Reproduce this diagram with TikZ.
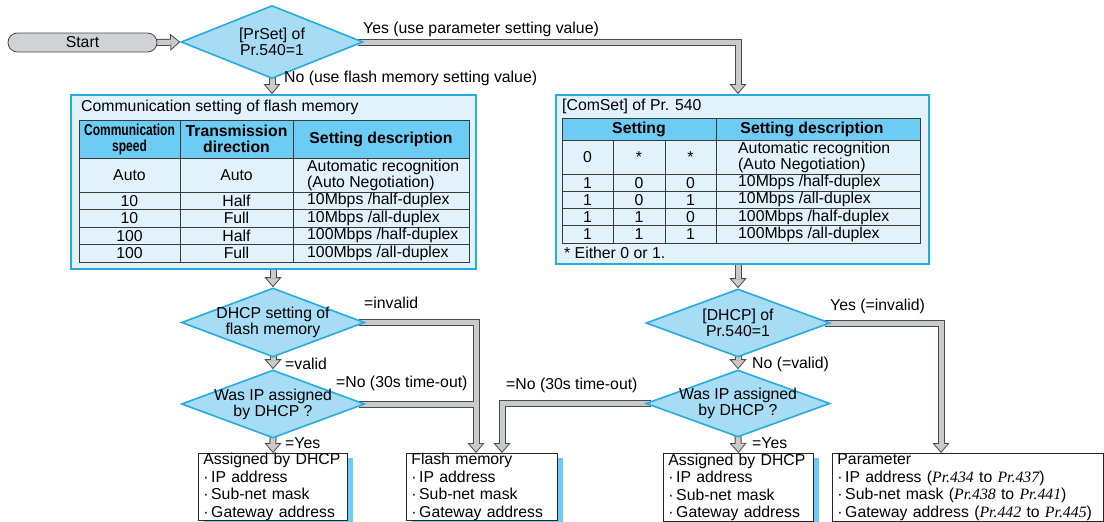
\documentclass[tikz,border=0pt]{standalone}
\usepackage{fontspec}
\setmainfont{Liberation Sans}
\newfontfamily\prfont{Liberation Serif}
\usetikzlibrary{arrows.meta, positioning, shapes.geometric, calc, backgrounds, shadows}

\definecolor{cyanline}{HTML}{27AAE1}
\definecolor{diafill}{HTML}{A6DCF4}
\definecolor{boxfill}{HTML}{E1F2FA}
\definecolor{headfill}{HTML}{6DCCF3}
\definecolor{flowgray}{HTML}{C9CACB}
\definecolor{flowline}{HTML}{4A4A4A}
\definecolor{pillfill}{HTML}{D1D2D4}
\definecolor{gridcol}{HTML}{3A3A3A}

\pgfdeclarelayer{flowout}
\pgfdeclarelayer{flowin}
\pgfsetlayers{flowout,flowin,main}

\newcommand\itemdot{\kern1.5pt·\kern2.5pt}
\newcommand\prno[1]{{\prfont\itshape Pr.#1}}

% all connectors, drawn once per pass (outline, then grey core)
\newcommand\flowpaths[2]{%
  \draw[#1,#2] (start.east) -- (prset.west);
  \draw[#1,#2] (prset.east) -| (dhcp540 |- comset.north);
  \draw[#1,#2] (prset.south) -- (prset.south |- flashset.north);
  \draw[#1,#2] (dhcpflash |- flashset.south) -- (dhcpflash.north);
  \draw[#1,#2] (dhcpflash.south) -- (ipflash.north);
  \draw[#1,#2] (dhcpflash.east) -| (fm-in1);
  \draw[#1]    (ipflash.east) -- (ipflash.east -| fm-in1);
  \draw[#1,#2] (ipflash.south) -- (dhcpres1.north);
  \draw[#1,#2] (dhcp540 |- comset.south) -- (dhcp540.north);
  \draw[#1,#2] (dhcp540.south) -- (ip540.north);
  \draw[#1,#2] (dhcp540.east) -| (par-in);
  \draw[#1,#2] (ip540.west) -| (fm-in2);
  \draw[#1,#2] (ip540.south) -- (dhcpres2.north);
}

\begin{document}
\begin{tikzpicture}[x=1pt, y=-1pt, font=\fontsize{15.8}{16}\selectfont,
  pill/.style={draw=flowline, line width=0.8pt, fill=pillfill, rounded corners=9.5pt,
               minimum width=149pt, minimum height=19pt, inner sep=0pt},
  decision/.style={diamond, draw=cyanline, line width=1.6pt, fill=diafill, inner sep=0pt},
  dtext/.style={align=center, inner sep=0pt},
  container/.style={draw=cyanline, line width=2pt, fill=boxfill, anchor=north west, inner sep=0pt},
  result/.style={draw=black!85, line width=0.9pt, fill=white, anchor=north west, align=left,
                 inner ysep=0pt, inner xsep=5pt,
                 drop shadow={shadow xshift=6pt, shadow yshift=-5pt, fill=headfill, opacity=1}},
  tabrule/.style={draw=gridcol, line width=0.8pt},
  cellt/.style={inner sep=0pt},
  headt/.style={inner sep=0pt, align=center, font=\fontsize{15.8}{16}\selectfont\bfseries},
  note/.style={inner sep=0pt, anchor=west},
  flowedge/.style={draw=flowline, line width=7pt, line join=miter, shorten <=-6pt},
  flowcore/.style={draw=flowgray, line width=5pt, line join=miter, shorten <=-6pt},
  flowtip/.style={-{Triangle[length=10pt, width=17pt, line width=0.8pt, fill=flowgray]}},
  coreend/.style={shorten >=9pt},
]
  \useasboundingbox (0,0) rectangle (1104,522);

  % start and first decision
  \node[pill] (start) at (82.5,42.5) {Start};
  \node[decision, minimum width=182pt, minimum height=73pt] (prset) at (272,42) {};
  \node[dtext] (prset-t) at (prset) {[PrSet] of\\Pr.540=1};
  \node[note] (yes1) at (363,29) {Yes (use parameter setting value)};
  \node[note] (no1) at (284,78) {No (use flash memory setting value)};

  % flash memory settings
  \node[container, minimum width=405pt, minimum height=174pt] (flashset) at (70,94) {};
  \node[note] (flashset-t) at (81,107) {Communication setting of flash memory};
  \draw[tabrule, fill=headfill] (79,120) rectangle (469,158);
  \draw[tabrule] (79,120) rectangle (469,262);
  \foreach \y in {192,209.5,227,244.5} \draw[tabrule] (79,\y) -- (469,\y);
  \foreach \x in {180,293} \draw[tabrule] (\x,120) -- (\x,262);
  \node[headt] (lhead1) at (129.5,139) {\scalebox{0.76}[1]{Communication}\\\scalebox{0.76}[1]{speed}};
  \node[headt] (lhead2) at (236.5,139) {Transmission\\direction};
  \node[headt] (lhead3) at (381,139) {Setting description};
  \foreach \y/\sp/\dir/\desc [count=\r] in {
      175/Auto/Auto/{Automatic recognition\\(Auto Negotiation)},
      200.75/10/Half/{10Mbps /half-duplex},
      218.25/10/Full/{10Mbps /all-duplex},
      235.75/100/Half/{100Mbps /half-duplex},
      253.25/100/Full/{100Mbps /all-duplex}}{
    \node[cellt] (lspeed\r) at (129.5,\y) {\sp};
    \node[cellt] (ldir\r) at (236.5,\y) {\dir};
    \node[cellt, anchor=west, align=left] (ldesc\r) at (307,\y) {\desc};
  }

  % Pr.540 settings
  \node[container, minimum width=373pt, minimum height=169pt] (comset) at (555,94) {};
  \node[note] (comset-t) at (562,106) {[ComSet] of Pr. 540};
  \draw[tabrule, fill=headfill] (562,118) rectangle (920,140);
  \draw[tabrule] (562,118) rectangle (920,243);
  \foreach \y in {174,191.25,208.5,225.75} \draw[tabrule] (562,\y) -- (920,\y);
  \draw[tabrule] (716,118) -- (716,243);
  \foreach \x in {613,665} \draw[tabrule] (\x,140) -- (\x,243);
  \node[headt] (rhead1) at (639,129) {Setting};
  \node[headt] (rhead2) at (812,129) {Setting description};
  \foreach \y/\a/\b/\c/\desc [count=\r] in {
      157/0/*/*/{Automatic recognition\\(Auto Negotiation)},
      182.6/1/0/0/{10Mbps /half-duplex},
      199.9/1/0/1/{10Mbps /all-duplex},
      217.1/1/1/0/{100Mbps /half-duplex},
      234.4/1/1/1/{100Mbps /all-duplex}}{
    \node[cellt] (ra\r) at (587.5,\y) {\a};
    \node[cellt] (rb\r) at (639,\y) {\b};
    \node[cellt] (rc\r) at (690.5,\y) {\c};
    \node[cellt, anchor=west, align=left] (rdesc\r) at (738,\y) {\desc};
  }
  \node[note] (footnote) at (564,253) {* Either 0 or 1.};

  % DHCP decisions, left
  \node[decision, minimum width=183pt, minimum height=69pt] (dhcpflash) at (273,322.5) {};
  \node[dtext] (dhcpflash-t) at (dhcpflash) {DHCP setting of\\flash memory};
  \node[decision, minimum width=183pt, minimum height=68pt] (ipflash) at (273,404) {};
  \node[dtext] (ipflash-t) at (ipflash) {Was IP assigned\\by DHCP ?};
  \node[note] (invalid1) at (364,303) {=invalid};
  \node[note] (valid1) at (285,364) {=valid};
  \node[note] (timeout1) at (336,383) {=No (30s time-out)};
  \node[note] (yes2) at (285,443) {=Yes};

  % DHCP decisions, right
  \node[decision, minimum width=184pt, minimum height=68pt] (dhcp540) at (738,323) {};
  \node[dtext] (dhcp540-t) at (dhcp540) {[DHCP] of\\Pr.540=1};
  \node[decision, minimum width=184pt, minimum height=67pt] (ip540) at (738,403.5) {};
  \node[dtext] (ip540-t) at (ip540) {Was IP assigned\\by DHCP ?};
  \node[note] (yes3) at (830,306) {Yes (=invalid)};
  \node[note] (valid2) at (752,364) {No (=valid)};
  \node[note] (timeout2) at (506,385) {=No (30s time-out)};
  \node[note] (yes4) at (752,443) {=Yes};

  % results
  \node[result, text width=139pt, minimum height=67pt] (dhcpres1) at (198,453)
    {Assigned by DHCP\\\itemdot IP address\\\itemdot Sub-net mask\\\itemdot Gateway address};
  \node[result, text width=141pt, minimum height=67pt] (flashres) at (406,453)
    {Flash memory\\\itemdot IP address\\\itemdot Sub-net mask\\\itemdot Gateway address};
  \node[result, text width=140pt, minimum height=68pt] (dhcpres2) at (663,453)
    {Assigned by DHCP\\\itemdot IP address\\\itemdot Sub-net mask\\\itemdot Gateway address};
  \node[result, text width=261pt, minimum height=68pt] (paramres) at (832,453)
    {Parameter\\\itemdot IP address (\prno{434} to \prno{437})\\
     \itemdot Sub-net mask (\prno{438} to \prno{441})\\
     \itemdot Gateway address (\prno{442} to \prno{445})};
  \coordinate (fm-in1) at (476,453);
  \coordinate (fm-in2) at (502,453);
  \coordinate (par-in) at (941,453);

  % connectors
  \begin{pgfonlayer}{flowout}
    \flowpaths{flowedge}{flowtip}
  \end{pgfonlayer}
  \begin{pgfonlayer}{flowin}
    \flowpaths{flowcore}{coreend}
  \end{pgfonlayer}
\end{tikzpicture}
\end{document}
